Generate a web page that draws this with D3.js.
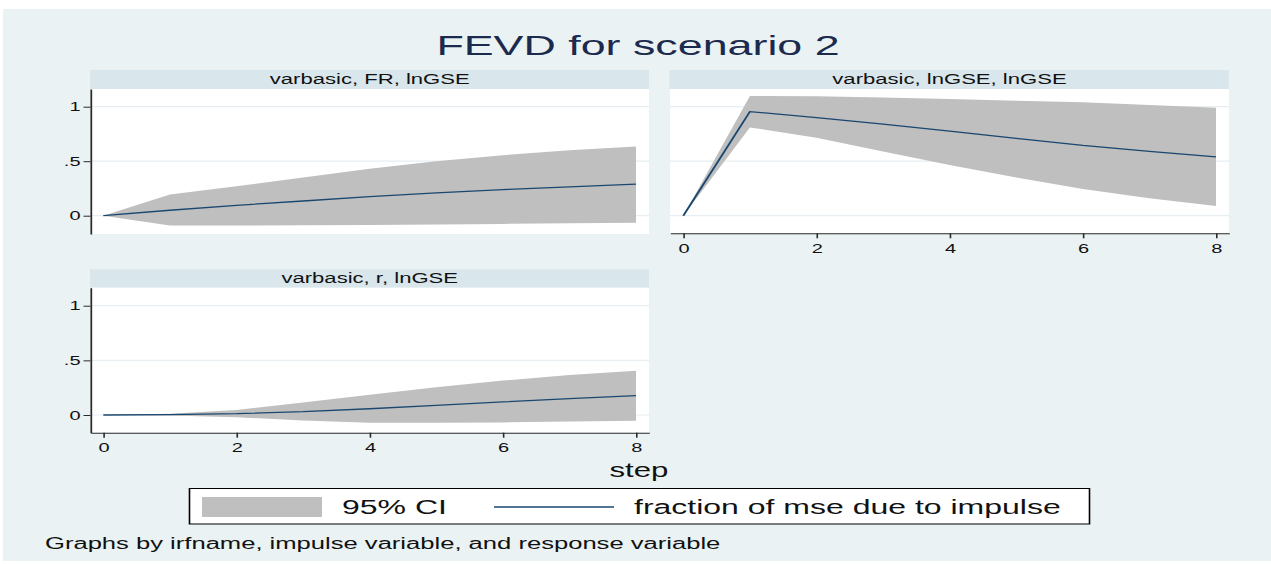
<!DOCTYPE html>
<html><head><meta charset="utf-8">
<script src="https://cdn.jsdelivr.net/npm/d3@7"></script>
<style>
body{margin:0;background:#fff}
svg{display:block}
text{font-family:"Liberation Sans",Arial,Helvetica,sans-serif}
</style>
</head><body>
<svg id="c" width="1271" height="564"></svg>
<script>
// ---------------- data ----------------
const steps = [0, 1, 2, 3, 4, 5, 6, 7, 8];
const panelTitles = ["varbasic, FR, lnGSE", "varbasic, lnGSE, lnGSE", "varbasic, r, lnGSE"];

const fevdFR  = [0, 0.05, 0.095, 0.135, 0.175, 0.21, 0.24, 0.265, 0.29];
const loFR    = [0, -0.09, -0.09, -0.088, -0.085, -0.08, -0.075, -0.07, -0.065];
const hiFR    = [0, 0.195, 0.27, 0.35, 0.43, 0.50, 0.555, 0.60, 0.635];

const fevdGSE = [0, 0.955, 0.90, 0.84, 0.775, 0.71, 0.645, 0.59, 0.54];
const loGSE   = [0, 0.81, 0.715, 0.59, 0.465, 0.35, 0.245, 0.16, 0.09];
const hiGSE   = [0, 1.098, 1.095, 1.085, 1.07, 1.055, 1.04, 1.015, 0.99];

const fevdR   = [0, 0.004, 0.012, 0.03, 0.057, 0.088, 0.12, 0.15, 0.177];
const loR     = [0, -0.004, -0.02, -0.05, -0.07, -0.072, -0.068, -0.06, -0.052];
const hiR     = [0, 0.012, 0.045, 0.115, 0.185, 0.255, 0.315, 0.365, 0.405];

const yTicks = [0, 0.5, 1];
const yTickLabels = ["0", ".5", "1"];
const xTicks = [0, 2, 4, 6, 8];
const legendLabels = ["95% CI", "fraction of mse due to impulse"];
const titleText = "FEVD for scenario 2";
const xTitleText = "step";
const noteText = "Graphs by irfname, impulse variable, and response variable";

// ---------------- layout ----------------
const S = 1.6;              // horizontal stretch of the whole picture
const R = v => v / S;        // reference px -> drawing units
const C = {
  bg: "#eaf2f3", strip: "#d9e6eb", ci: "#bfbfbf", line: "#1a476f",
  grid: "#e6eef1", axis: "#2a2a2a", title: "#1c2a4e", text: "#111"
};

const svg = d3.select("#c");
svg.append("rect").attr("x", 0).attr("y", 0).attr("width", 1271).attr("height", 564).attr("fill", "#fff");
const g = svg.append("g").attr("transform", `scale(${S},1)`);
g.append("rect").attr("x", R(3)).attr("y", 9).attr("width", R(1268)).attr("height", 552).attr("fill", C.bg);

g.append("text").attr("x", R(638)).attr("y", 55).attr("text-anchor", "middle")
  .attr("font-size", 28).attr("fill", C.title).text(titleText);

const panels = [
  {title: panelTitles[0], mid: fevdFR, lo: loFR, hi: hiFR,
   x0: 90.5, x1: 649, yTop: 89, yBot: 234, sTop: 70, xr: [103.3, 636], yr: [215.7, 106.7], yAxis: true, xAxis: false},
  {title: panelTitles[1], mid: fevdGSE, lo: loGSE, hi: hiGSE,
   x0: 670, x1: 1229, yTop: 89, yBot: 233.3, sTop: 70, xr: [683.3, 1216], yr: [215.7, 106.7], yAxis: false, xAxis: true},
  {title: panelTitles[2], mid: fevdR, lo: loR, hi: hiR,
   x0: 90.5, x1: 649, yTop: 287.7, yBot: 432.7, sTop: 269.3, xr: [103.3, 636], yr: [415, 305.7], yAxis: true, xAxis: true}
];

panels.forEach(p => {
  const x = d3.scaleLinear().domain([0, 8]).range([R(p.xr[0]), R(p.xr[1])]);
  x.domain([x.invert(R(p.x0)), x.invert(R(p.x1))]).range([R(p.x0), R(p.x1)]);
  const y = d3.scaleLinear().domain([0, 1]).range(p.yr);
  y.domain([y.invert(p.yBot), y.invert(p.yTop)]).range([p.yBot, p.yTop]);

  const pg = g.append("g");
  // strip
  pg.append("rect").attr("x", R(p.x0 - 0.5)).attr("y", p.sTop).attr("width", R(p.x1 - p.x0 + 0.5))
    .attr("height", p.yTop - p.sTop).attr("fill", C.strip);
  pg.append("text").attr("x", R((p.x0 + p.x1) / 2)).attr("y", p.yTop - 5).attr("text-anchor", "middle")
    .attr("font-size", 13.8).attr("fill", C.text).text(p.title);
  // plot region
  pg.append("rect").attr("x", R(p.x0)).attr("y", p.yTop).attr("width", R(p.x1 - p.x0))
    .attr("height", p.yBot - p.yTop).attr("fill", "#fff");
  // grid
  pg.selectAll("line.grid").data(yTicks).join("line").attr("class", "grid")
    .attr("x1", R(p.x0)).attr("x2", R(p.x1)).attr("y1", d => y(d)).attr("y2", d => y(d))
    .attr("stroke", C.grid).attr("stroke-width", 1.2);
  // CI band
  const area = d3.area().x((d, i) => x(steps[i])).y0((d, i) => y(p.lo[i])).y1((d, i) => y(p.hi[i]));
  pg.append("path").datum(p.mid).attr("d", area).attr("fill", C.ci);
  // line
  const line = d3.line().x((d, i) => x(steps[i])).y(d => y(d));
  pg.append("path").datum(p.mid).attr("d", line).attr("fill", "none")
    .attr("stroke", C.line).attr("stroke-width", 1.3);

  if (p.yAxis) {
    const ax = pg.append("g").attr("transform", `translate(${R(p.x0)},0)`)
      .call(d3.axisLeft(y).tickValues(yTicks).tickFormat((d, i) => yTickLabels[i])
        .tickSize(R(7)).tickSizeOuter(0).tickPadding(R(3)));
    ax.select(".domain").attr("stroke", C.axis).attr("stroke-width", 1.1);
    ax.selectAll(".tick line").attr("stroke", C.axis).attr("stroke-width", 1);
    ax.selectAll(".tick text").attr("font-size", 12.5).attr("fill", C.text)
      .attr("font-family", '"Liberation Sans",Arial,sans-serif');
  }
  if (p.xAxis) {
    const ax = pg.append("g").attr("transform", `translate(0,${p.yBot})`)
      .call(d3.axisBottom(x).tickValues(xTicks).tickFormat(d3.format("d"))
        .tickSize(5).tickSizeOuter(0).tickPadding(5.5));
    ax.select(".domain").attr("stroke", C.axis).attr("stroke-width", 1.1);
    ax.selectAll(".tick line").attr("stroke", C.axis).attr("stroke-width", 1);
    ax.selectAll(".tick text").attr("font-size", 12.5).attr("fill", C.text)
      .attr("font-family", '"Liberation Sans",Arial,sans-serif');
  }
});

// x title
g.append("text").attr("x", R(639)).attr("y", 477).attr("text-anchor", "middle")
  .attr("font-size", 19.5).attr("fill", C.text).text(xTitleText);

// legend
const lg = g.append("g");
lg.append("rect").attr("x", R(189.5)).attr("y", 488.5).attr("width", R(900)).attr("height", 35.5)
  .attr("fill", "#fff").attr("stroke", "#000").attr("stroke-width", 1);
lg.append("rect").attr("x", R(202)).attr("y", 497).attr("width", R(120)).attr("height", 20).attr("fill", C.ci);
lg.append("text").attr("x", R(342)).attr("y", 514.5).attr("font-size", 20).attr("fill", C.text).text(legendLabels[0]);
lg.append("line").attr("x1", R(494)).attr("x2", R(614)).attr("y1", 507).attr("y2", 507)
  .attr("stroke", C.line).attr("stroke-width", 1.3);
lg.append("text").attr("x", R(634)).attr("y", 514.5).attr("font-size", 20).attr("fill", C.text).text(legendLabels[1]);

// note
g.append("text").attr("x", R(45)).attr("y", 549).attr("font-size", 16).attr("fill", C.text).text(noteText);
</script>
</body></html>
